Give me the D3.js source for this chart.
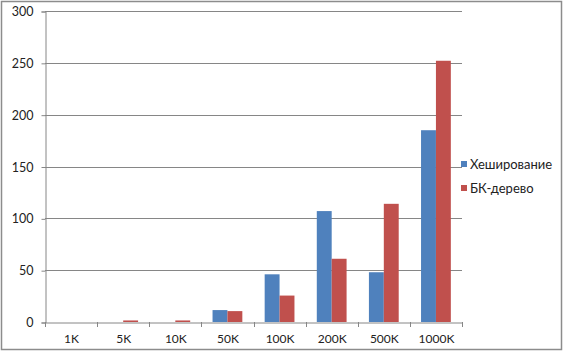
<!DOCTYPE html>
<html><head><meta charset="utf-8">
<script src="https://cdn.jsdelivr.net/npm/d3@7"></script>
<style>body{margin:0;background:#fff}svg{display:block}text{font-family:Lato,"Open Sans",sans-serif;fill:#222}</style>
</head><body><svg id="c" width="563" height="352"></svg>
<script>
const categories = ["1K","5K","10K","50K","100K","200K","500K","1000K"];
const seriesNames = ["Хеширование","БК-дерево"];
const hashValues = [0, 0, 0, 11.5, 46, 107, 48, 185];
const bkValues = [0, 1.5, 1.5, 10.5, 25.5, 61, 114, 252];
const yTicks = [0, 50, 100, 150, 200, 250, 300];
const colors = ["#4F81BD", "#C0504D"];

(function(){
const svg = d3.select("#c");
svg.append("rect").attr("x",1.5).attr("y",1.5).attr("width",560).attr("height",348)
  .attr("fill","#fff").attr("stroke","#8c8c8c").attr("stroke-width",1.5);

const pL = 45, pR = 462, pT = 11, pB = 322;
const x = d3.scaleBand().domain(categories).range([pL, pR]).paddingInner(0).paddingOuter(0);
const y = d3.scaleLinear().domain([0, 300]).range([pB, pT]);

svg.append("g").selectAll("line").data(yTicks.filter(d=>d>0)).join("line")
  .attr("x1", pL).attr("x2", pR)
  .attr("y1", d=>Math.round(y(d))+0.5).attr("y2", d=>Math.round(y(d))+0.5)
  .attr("stroke","#868686").attr("stroke-width",1);

const bw = x.bandwidth() / 3.5;
const data = [hashValues, bkValues];
data.forEach((vals, si) => {
  svg.append("g").selectAll("rect").data(categories).join("rect")
    .attr("x", (c) => x(c) + x.bandwidth()*0.75/3.5 + si*bw)
    .attr("width", bw)
    .attr("y", (c,i) => y(vals[i]))
    .attr("height", (c,i) => pB - y(vals[i]))
    .attr("fill", colors[si]);
});

const ya = svg.append("g").attr("transform", `translate(${pL+0.5},0.5)`)
  .call(d3.axisLeft(y).tickValues(yTicks).tickSize(4).tickPadding(8));
ya.select(".domain").attr("stroke","#868686");
ya.selectAll(".tick line").attr("stroke","#868686");
ya.selectAll("text").style("font-size","12.5px").style("font-family","Lato, sans-serif").attr("fill","#222");

const xa = svg.append("g").attr("transform", `translate(0.5,${pB+0.5})`)
  .call(d3.axisBottom(x).tickSize(0).tickPadding(12));
xa.select(".domain").attr("stroke","#868686");
xa.selectAll("text").style("font-size","12px").style("font-family","Lato, sans-serif").attr("fill","#222");
svg.append("g").selectAll("line").data(d3.range(categories.length+1)).join("line")
  .attr("x1", i => Math.round(pL + i*x.step())+0.5).attr("x2", i => Math.round(pL + i*x.step())+0.5)
  .attr("y1", pB).attr("y2", pB+5).attr("stroke","#868686");

const lg = svg.append("g");
seriesNames.forEach((n, i) => {
  const cy = 164 + i*24;
  lg.append("rect").attr("x", 461).attr("y", cy-3).attr("width", 6).attr("height", 6).attr("fill", colors[i]);
  lg.append("text").attr("x", 470).attr("y", cy).attr("dy","0.35em")
    .style("font-size","13px").text(n);
});
})();
</script></body></html>
